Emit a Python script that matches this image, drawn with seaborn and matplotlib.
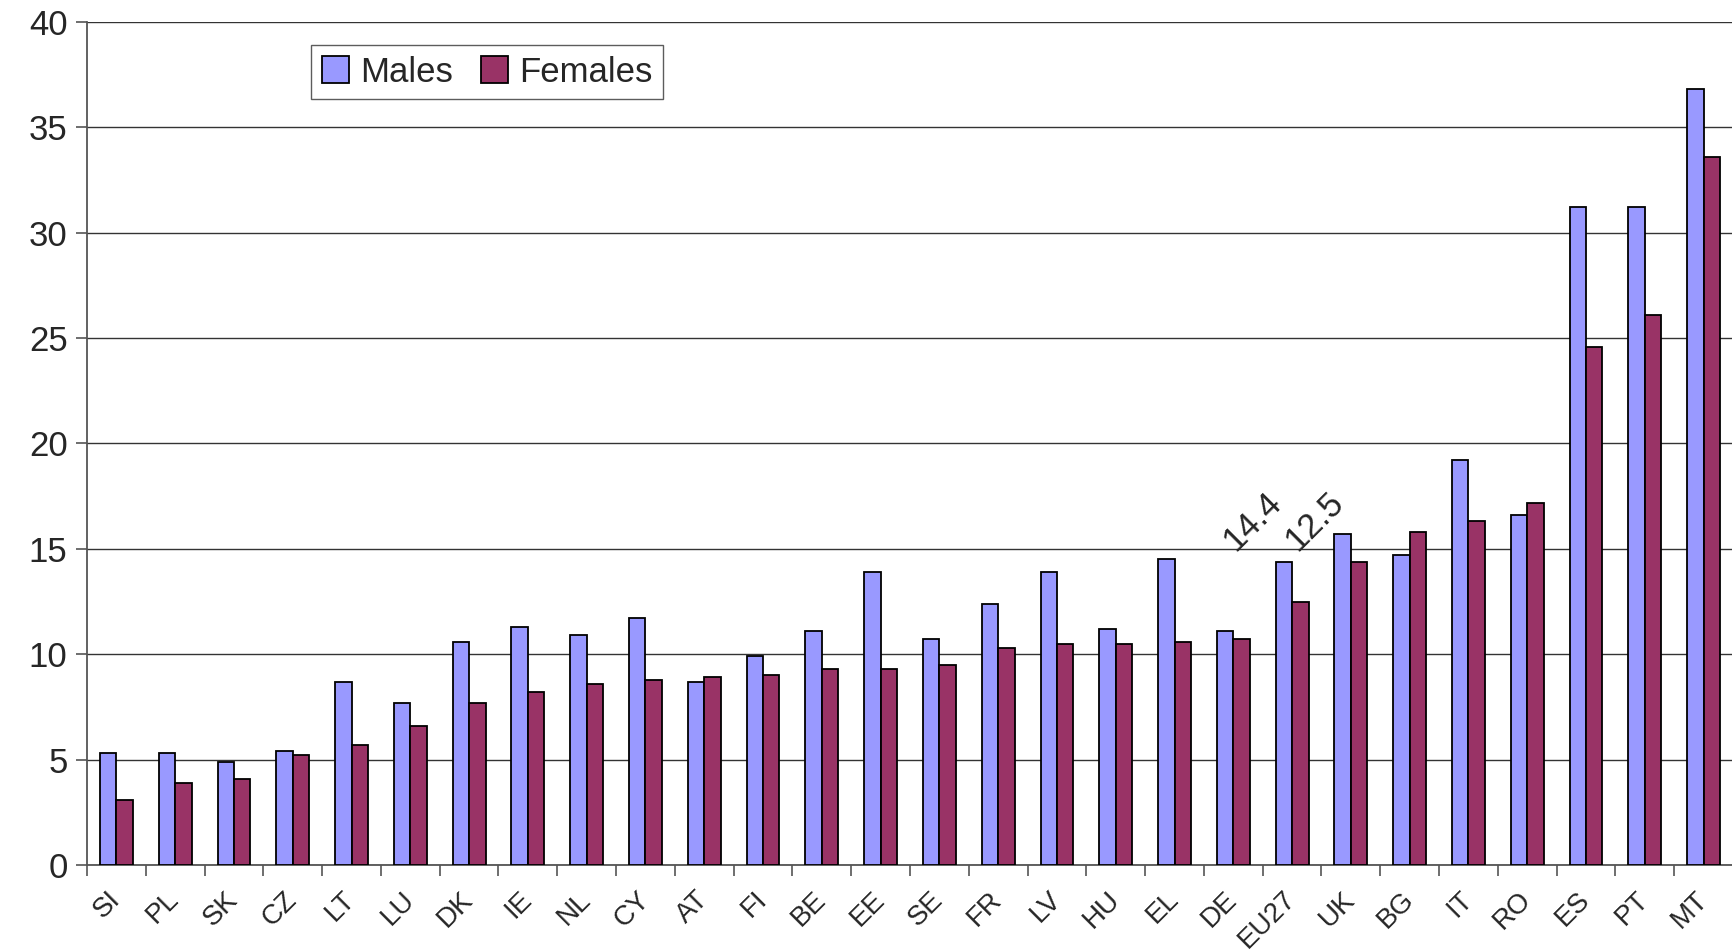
import pandas as pd
import numpy as np
import matplotlib.pyplot as plt
import seaborn as sns

countries = ['SI', 'PL', 'SK', 'CZ', 'LT', 'LU', 'DK', 'IE', 'NL', 'CY', 'AT', 'FI', 'BE', 'EE',
             'SE', 'FR', 'LV', 'HU', 'EL', 'DE', 'EU27', 'UK', 'BG', 'IT', 'RO', 'ES', 'PT', 'MT']
males = [5.3, 5.3, 4.9, 5.4, 8.7, 7.7, 10.6, 11.3, 10.9, 11.7, 8.7, 9.9, 11.1, 13.9,
         10.7, 12.4, 13.9, 11.2, 14.5, 11.1, 14.4, 15.7, 14.7, 19.2, 16.6, 31.2, 31.2, 36.8]
females = [3.1, 3.9, 4.1, 5.2, 5.7, 6.6, 7.7, 8.2, 8.6, 8.8, 8.9, 9.0, 9.3, 9.3,
           9.5, 10.3, 10.5, 10.5, 10.6, 10.7, 12.5, 14.4, 15.8, 16.3, 17.2, 24.6, 26.1, 33.6]
yticks = [0, 5, 10, 15, 20, 25, 30, 35, 40]

df = pd.DataFrame({'country': countries * 2,
                   'value': males + females,
                   'sex': ['Males'] * len(countries) + ['Females'] * len(countries)})

sns.set_style('white')
plt.rcParams['font.family'] = ['Liberation Sans', 'DejaVu Sans']

fig = plt.figure(figsize=(17.33, 9.52), dpi=100)
ax = fig.add_axes([87 / 1733, 1 - 865 / 952, 1 - 87 / 1733, (865 - 22) / 952])

sns.barplot(data=df, x='country', y='value', hue='sex', order=countries,
            palette={'Males': '#9999FF', 'Females': '#993366'}, saturation=1,
            width=0.56, edgecolor='black', linewidth=1.3, ax=ax, zorder=3)

ax.set_xlim(-0.5, len(countries) - 0.5)
ax.set_ylim(0, 40)
ax.set_yticks(yticks)
ax.yaxis.grid(True, color='#333333', linewidth=1.0, zorder=0)
ax.set_axisbelow(True)
ax.set_xlabel('')
ax.set_ylabel('')

for s in ['top', 'right']:
    ax.spines[s].set_visible(False)
for s in ['left', 'bottom']:
    ax.spines[s].set_color('#555555')
    ax.spines[s].set_linewidth(1.3)

ax.tick_params(axis='y', which='major', labelsize=25, length=8, width=1.2,
               color='#555555', left=True, direction='out', pad=6)
ax.set_xticks(np.arange(len(countries)))
ax.set_xticks(np.arange(len(countries) + 1) - 0.5, minor=True)
ax.tick_params(axis='x', which='major', length=0, pad=22)
ax.tick_params(axis='x', which='minor', length=8, width=1.2, color='#555555', bottom=True,
               direction='out')
ax.set_xticklabels(countries, rotation=45, ha='right', va='center',
                   rotation_mode='anchor', fontsize=20)

# data labels for EU27
i_eu = countries.index('EU27')
ax.text(i_eu - 0.68, 16.3, f'{males[i_eu]:.1f}', rotation=45, ha='center', va='center', fontsize=25)
ax.text(i_eu + 0.38, 16.3, f'{females[i_eu]:.1f}', rotation=45, ha='center', va='center', fontsize=25)

leg = ax.legend(loc='upper left', bbox_to_anchor=(0.1257, 0.993), ncol=2, fontsize=25,
                frameon=True, fancybox=False, edgecolor='#333333', handlelength=0.8,
                handleheight=0.8, handletextpad=0.3, columnspacing=0.8, borderpad=0.3)
leg.get_frame().set_linewidth(1.0)

fig.savefig('out.png', dpi=100)
